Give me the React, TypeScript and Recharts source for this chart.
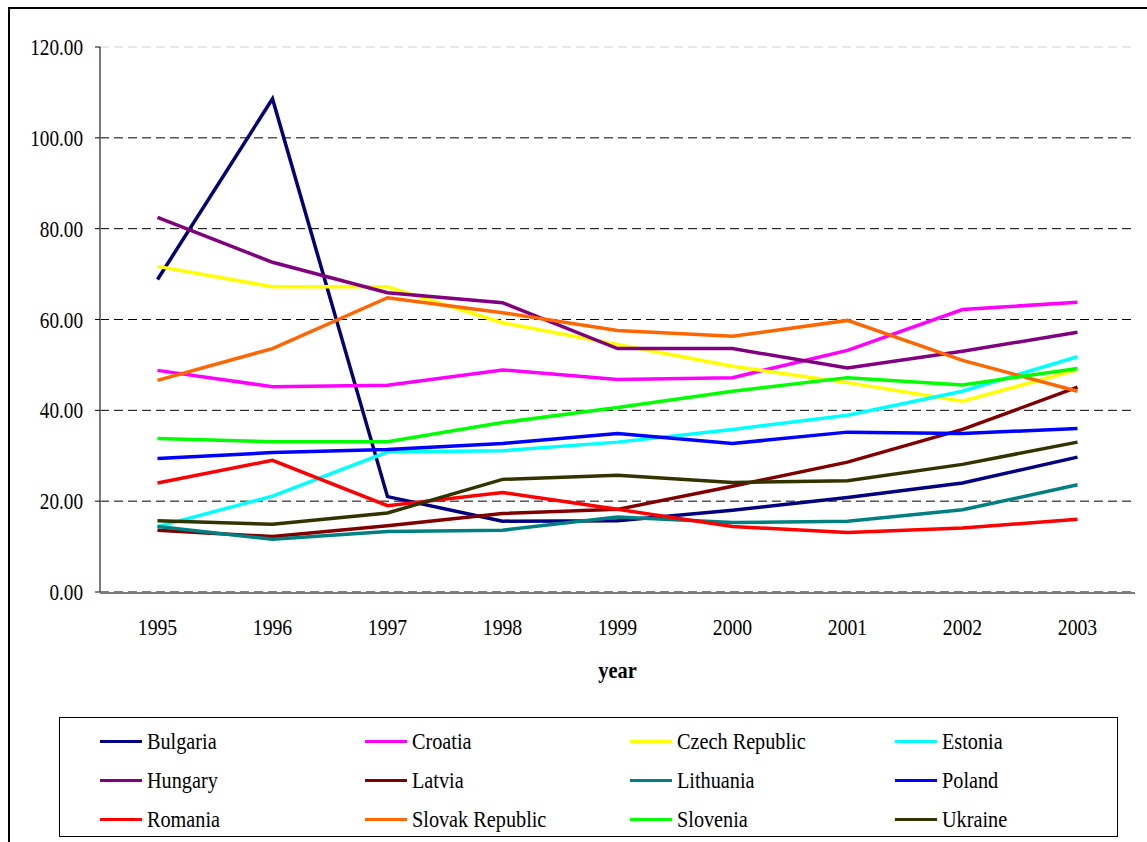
import { LineChart, Line, XAxis, YAxis, CartesianGrid, Legend } from 'recharts';

const YEARS = [1995, 1996, 1997, 1998, 1999, 2000, 2001, 2002, 2003];
// tick marks sit between the years, like the Excel original
const YEAR_BOUNDS = [1994.5, 1995.5, 1996.5, 1997.5, 1998.5, 1999.5, 2000.5, 2001.5, 2002.5, 2003.5];
const Y_TICKS = [0, 20, 40, 60, 80, 100, 120];

const BULGARIA = [68.8, 108.6, 21.0, 15.6, 15.7, 18.0, 20.8, 24.0, 29.7];
const CROATIA = [48.8, 45.2, 45.5, 48.9, 46.8, 47.2, 53.2, 62.2, 63.8];
const CZECH_REPUBLIC = [71.7, 67.2, 67.2, 59.3, 54.5, 49.7, 46.1, 42.0, 48.9];
const ESTONIA = [14.4, 21.1, 30.8, 31.1, 33.0, 35.8, 38.9, 44.2, 51.8];
const HUNGARY = [82.5, 72.6, 65.9, 63.7, 53.6, 53.6, 49.3, 53.0, 57.2];
const LATVIA = [13.6, 12.2, 14.6, 17.3, 18.2, 23.3, 28.6, 35.8, 45.1];
const LITHUANIA = [14.4, 11.6, 13.3, 13.6, 16.5, 15.3, 15.6, 18.1, 23.6];
const POLAND = [29.4, 30.7, 31.4, 32.7, 34.9, 32.7, 35.2, 34.9, 36.0];
const ROMANIA = [24.0, 29.0, 19.0, 21.9, 18.2, 14.4, 13.1, 14.1, 16.0];
const SLOVAK_REPUBLIC = [46.6, 53.6, 64.8, 61.5, 57.6, 56.3, 59.8, 51.0, 44.2];
const SLOVENIA = [33.8, 33.1, 33.1, 37.3, 40.6, 44.2, 47.2, 45.6, 49.2];
const UKRAINE = [15.7, 14.9, 17.4, 24.8, 25.7, 24.1, 24.5, 28.1, 33.0];

const SERIES = [
  { key: 'bulgaria', name: 'Bulgaria', color: '#000080', values: BULGARIA },
  { key: 'croatia', name: 'Croatia', color: '#ff00ff', values: CROATIA },
  { key: 'czech', name: 'Czech Republic', color: '#ffff00', values: CZECH_REPUBLIC },
  { key: 'estonia', name: 'Estonia', color: '#00ffff', values: ESTONIA },
  { key: 'hungary', name: 'Hungary', color: '#800080', values: HUNGARY },
  { key: 'latvia', name: 'Latvia', color: '#800000', values: LATVIA },
  { key: 'lithuania', name: 'Lithuania', color: '#008080', values: LITHUANIA },
  { key: 'poland', name: 'Poland', color: '#0000ff', values: POLAND },
  { key: 'romania', name: 'Romania', color: '#ff0000', values: ROMANIA },
  { key: 'slovak', name: 'Slovak Republic', color: '#ff6600', values: SLOVAK_REPUBLIC },
  { key: 'slovenia', name: 'Slovenia', color: '#00ff00', values: SLOVENIA },
  { key: 'ukraine', name: 'Ukraine', color: '#333300', values: UKRAINE },
];

const data = YEARS.map((year, i) => {
  const row: Record<string, number> = { year };
  SERIES.forEach((s) => { row[s.key] = s.values[i]; });
  return row;
});

const FONT = "'Liberation Serif', 'DejaVu Serif', serif";

function XTick({ x, y, payload }: any) {
  return (
    <text transform={`translate(${x},${y + 43}) scale(0.82,1)`} textAnchor="middle"
      style={{ fontFamily: FONT }} fontSize={24} fill="#000">
      {payload.value}
    </text>
  );
}

function YTick({ x, y, payload }: any) {
  return (
    <text transform={`translate(${x},${y + 8}) scale(0.8,1)`} textAnchor="end"
      style={{ fontFamily: FONT }} fontSize={24} fill="#000">
      {Number(payload.value).toFixed(2)}
    </text>
  );
}

function YearLabel({ viewBox }: any) {
  const { x, y, width } = viewBox;
  return (
    <text transform={`translate(${x + width / 2},${y + 86}) scale(0.85,1)`} textAnchor="middle"
      style={{ fontFamily: FONT }} fontSize={24} fontWeight="bold" fill="#000">
      year
    </text>
  );
}

function GridLine(props: any) {
  const { x1, x2, y1, y2 } = props;
  const top = y1 < 50;
  return (
    <line key={props.key} x1={x1} x2={x2} y1={y1} y2={y2}
      stroke={top ? '#d0d0d0' : '#000'} strokeWidth={1} strokeDasharray="9 5" />
  );
}

function LegendBox({ payload }: any) {
  return (
    <div style={{
      boxSizing: 'border-box', width: '100%', height: '100%', border: '1.5px solid #000',
      background: '#fff', padding: '4px 0 0 40px', display: 'grid',
      gridTemplateColumns: 'repeat(4, 265px)', gridAutoRows: '39px',
    }}>
      {(payload || []).map((p: any) => (
        <div key={p.value} style={{ display: 'flex', alignItems: 'center' }}>
          <span style={{ display: 'inline-block', width: 42, height: 3.5, background: p.color, marginRight: 5 }} />
          <span style={{
            fontFamily: FONT, fontSize: 23, color: '#000', display: 'inline-block',
            transform: 'scale(0.88,1)', transformOrigin: 'left center', whiteSpace: 'nowrap',
          }}>{p.value}</span>
        </div>
      ))}
    </div>
  );
}

export default function App() {
  return (
    <div style={{ position: 'fixed', left: 0, top: 0, width: 1147, height: 842, overflow: 'hidden', background: '#fff', fontFamily: FONT }}>
      <div style={{
        position: 'absolute', left: 8, top: 7, width: 1300, height: 1000,
        border: '2px solid #000',
      }} />
      <div style={{ position: 'absolute', left: 0, top: 0 }}>
        <LineChart width={1147} height={842} data={data}
          margin={{ top: 47, right: 12, bottom: 248, left: 0 }}>
          <CartesianGrid vertical={false} horizontal={GridLine} />
          <XAxis xAxisId="marks" type="number" dataKey="year" domain={[1994.5, 2003.5]}
            ticks={YEAR_BOUNDS} interval={0} tick={false} tickSize={7} height={1}
            stroke="#808080" axisLine={{ stroke: '#7a7a7a', strokeWidth: 2 }} tickLine={{ stroke: '#000' }} />
          <XAxis xAxisId="labels" type="number" dataKey="year" domain={[1994.5, 2003.5]}
            ticks={YEARS} interval={0} tick={<XTick />} tickSize={0} tickMargin={0} height={1}
            axisLine={false} tickLine={false} label={<YearLabel />} />
          <YAxis domain={[0, 120]} ticks={Y_TICKS} interval={0} width={100} tickSize={5} tickMargin={12}
            stroke="#808080" tick={<YTick />} axisLine={{ stroke: '#7a7a7a', strokeWidth: 2 }} tickLine={{ stroke: '#000' }} />
          <Legend verticalAlign="middle" layout="horizontal" content={<LegendBox />}
            wrapperStyle={{ left: 59, top: 717, width: 1059, height: 120 }} />
          {SERIES.map((s) => (
            <Line key={s.key} xAxisId="labels" type="linear" dataKey={s.key} name={s.name}
              stroke={s.color} strokeWidth={3.5} dot={false} isAnimationActive={false} />
          ))}
        </LineChart>
      </div>
    </div>
  );
}
